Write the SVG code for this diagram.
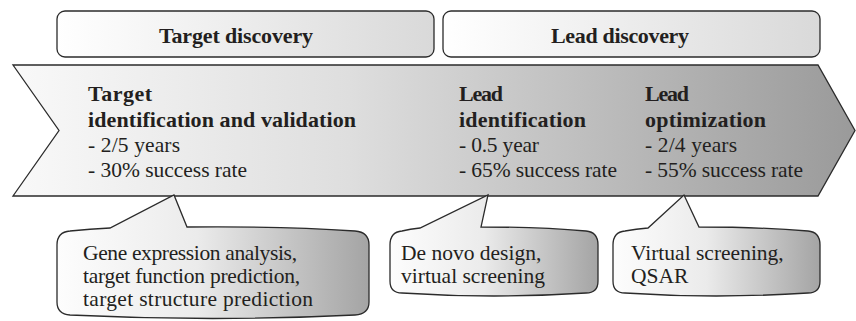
<svg xmlns="http://www.w3.org/2000/svg" width="856" height="321" viewBox="0 0 856 321">
<style>
.b{font-family:"Liberation Serif","Times New Roman",serif;font-weight:bold;font-size:22px;fill:#231f20}
.r{font-family:"Liberation Serif","Times New Roman",serif;font-size:21.5px;fill:#231f20}
.shape{stroke:#2b2b2b;stroke-width:1.3;stroke-linejoin:miter}
</style>
<defs>
<linearGradient id="gBox" x1="0" y1="0" x2="1" y2="0">
<stop offset="0" stop-color="#ffffff"/>
<stop offset="1" stop-color="#d9d9d9"/>
</linearGradient>
<linearGradient id="gArrow" x1="0" y1="0" x2="1" y2="0">
<stop offset="0" stop-color="#f9f9f9"/>
<stop offset="0.4" stop-color="#dedede"/>
<stop offset="1" stop-color="#9a9a9a"/>
</linearGradient>
<linearGradient id="gCall" x1="0" y1="0" x2="1" y2="0">
<stop offset="0" stop-color="#fdfdfd"/>
<stop offset="0.45" stop-color="#ebebeb"/>
<stop offset="1" stop-color="#a4a4a4"/>
</linearGradient>
</defs>

<g id="target-discovery">
<rect class="shape" x="57" y="11" width="377" height="46" rx="8" fill="url(#gBox)"/>
<text class="b" x="159" y="43" textLength="154">Target discovery</text>
</g>
<g id="lead-discovery">
<rect class="shape" x="443" y="11" width="377" height="46" rx="8" fill="url(#gBox)"/>
<text class="b" x="551" y="43" textLength="138">Lead discovery</text>
</g>

<g id="pipeline-arrow">
<polygon class="shape" points="13,65 818,65 855,130.5 818,196 13,196 59,130.5" fill="url(#gArrow)"/>
</g>

<g id="target-identification">
<text class="b" x="88" y="101" textLength="64">Target</text>
<text class="b" x="88" y="127" textLength="268">identification and validation</text>
<text class="r" x="88" y="152" textLength="92">- 2/5 years</text>
<text class="r" x="88" y="177" textLength="159">- 30% success rate</text>
</g>
<g id="lead-identification">
<text class="b" x="459" y="101" textLength="44">Lead</text>
<text class="b" x="459" y="127" textLength="127">identification</text>
<text class="r" x="459" y="152" textLength="80">- 0.5 year</text>
<text class="r" x="459" y="177" textLength="158">- 65% success rate</text>
</g>
<g id="lead-optimization">
<text class="b" x="645" y="101" textLength="44">Lead</text>
<text class="b" x="645" y="127" textLength="121">optimization</text>
<text class="r" x="645" y="152" textLength="92">- 2/4 years</text>
<text class="r" x="645" y="177" textLength="158">- 55% success rate</text>
</g>

<g id="callout-target">
<path class="shape" fill="url(#gCall)" d="M57,245 Q57,232 70,231 Q90,229 110,228 L174,195 L187,227 Q280,226 355,231 Q369,232 369,245 L369,302 Q369,314 355,315 Q213,322 70,315 Q57,314 57,302 Z"/>
<text class="r" x="83" y="260" textLength="214">Gene expression analysis,</text>
<text class="r" x="83" y="283" textLength="217">target function prediction,</text>
<text class="r" x="83" y="306" textLength="230">target structure prediction</text>
</g>
<g id="callout-lead-id">
<path class="shape" fill="url(#gCall)" d="M390,245 Q390,232 402,231 Q410,229 420,228 L488,195 L481,227 Q540,227 586,231 Q598,232 598,245 L598,281 Q598,293 586,293 Q494,299 402,293 Q390,293 390,281 Z"/>
<text class="r" x="401" y="260">De novo design,</text>
<text class="r" x="401" y="283">virtual screening</text>
</g>
<g id="callout-lead-opt">
<path class="shape" fill="url(#gCall)" d="M613,245 Q613,232 625,231 Q636,229 648,228 L684,195 L699,227 Q760,227 808,231 Q820,232 820,245 L820,281 Q820,293 808,293 Q716,299 625,293 Q613,293 613,281 Z"/>
<text class="r" x="631" y="260">Virtual screening,</text>
<text class="r" x="631" y="283">QSAR</text>
</g>
</svg>
